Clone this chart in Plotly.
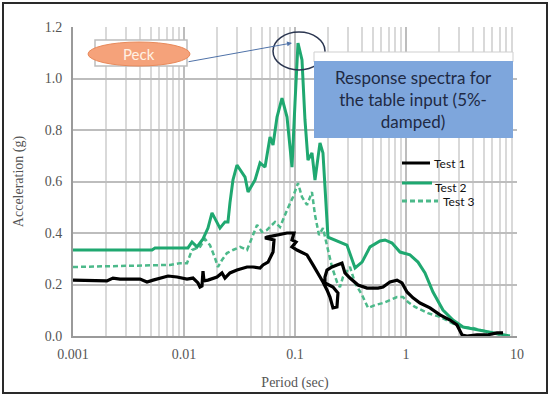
import plotly.graph_objects as go

# ---------------- data ----------------
test2_period = [0.001, 0.00515, 0.00548, 0.01086, 0.0118, 0.0131, 0.01483, 0.01644, 0.01787, 0.01983,
                0.02109, 0.02339, 0.02489, 0.02594, 0.02761, 0.03, 0.03548, 0.03776, 0.04365, 0.04842,
                0.0537, 0.05957, 0.06339, 0.06887, 0.07638, 0.08472, 0.09016, 0.09397, 0.1, 0.1064,
                0.1156, 0.123, 0.1309, 0.1422, 0.1514, 0.1679, 0.1786, 0.1941, 0.1982, 0.2938,
                0.3126, 0.3475, 0.4018, 0.4743, 0.5834, 0.6471, 0.7482, 0.8831, 1.086, 1.282,
                1.483, 1.750, 2.153, 2.649, 3.266, 4.645, 6.081, 8.650]
test2_acc = [0.334, 0.334, 0.342, 0.342, 0.365, 0.346, 0.377, 0.419, 0.478, 0.443,
             0.419, 0.443, 0.443, 0.517, 0.606, 0.664, 0.617, 0.559, 0.606, 0.672,
             0.656, 0.773, 0.742, 0.850, 0.924, 0.850, 0.734, 0.656, 0.905, 1.138,
             1.072, 0.839, 0.683, 0.711, 0.606, 0.750, 0.711, 0.439, 0.384, 0.353,
             0.322, 0.264, 0.287, 0.346, 0.369, 0.373, 0.361, 0.326, 0.315, 0.287,
             0.245, 0.171, 0.101, 0.062, 0.035, 0.023, 0.012, 0.0]

test3_period = [0.001, 0.00748, 0.0092, 0.01064, 0.0118, 0.01393, 0.01545, 0.01714, 0.01902, 0.02023,
                0.02198, 0.02438, 0.02761, 0.03199, 0.03698, 0.04102, 0.0455, 0.05047, 0.05597, 0.06607,
                0.07328, 0.08472, 0.09594, 0.1064, 0.1156, 0.1282, 0.1422, 0.1514, 0.1645, 0.1786,
                0.1941, 0.2153, 0.2388, 0.2541, 0.2704, 0.3126, 0.3475, 0.4018, 0.455, 0.526,
                0.6209, 0.7178, 0.8299, 0.9397, 1.042, 1.205, 1.393, 1.578, 2.023, 2.489,
                3.063, 4.018, 5.370, 7.031]
test3_acc = [0.268, 0.276, 0.283, 0.283, 0.334, 0.346, 0.377, 0.353, 0.303, 0.268,
             0.295, 0.322, 0.334, 0.346, 0.334, 0.384, 0.431, 0.404, 0.412, 0.443,
             0.423, 0.489, 0.540, 0.594, 0.540, 0.509, 0.559, 0.470, 0.392, 0.419,
             0.353, 0.268, 0.210, 0.190, 0.229, 0.268, 0.206, 0.159, 0.109, 0.120,
             0.128, 0.140, 0.151, 0.151, 0.132, 0.113, 0.101, 0.089, 0.074, 0.054,
             0.035, 0.031, 0.016, 0.004]

test1_period = [0.001, 0.00151, 0.00202, 0.00229, 0.00265, 0.00402, 0.00464, 0.00526, 0.00608, 0.00718,
                0.00865, 0.01064, 0.01205, 0.01337, 0.01393, 0.01452, 0.01483, 0.01514, 0.01644, 0.01983,
                0.02198, 0.02339, 0.02594, 0.03, 0.03698, 0.04188, 0.04842, 0.05152, 0.05715, 0.06339,
                0.06471, 0.0537, 0.05597, 0.06887, 0.08472, 0.09795, 0.09397, 0.1021, 0.09397, 0.1042,
                0.1282, 0.1452, 0.1611, 0.1786, 0.1941, 0.2065, 0.2198, 0.2388, 0.2438, 0.2198,
                0.1862, 0.1862, 0.1941, 0.2153, 0.2388, 0.2649, 0.2818, 0.3126, 0.3698, 0.4457,
                0.5598, 0.6209, 0.7178, 0.8299, 0.9204, 1.021, 1.156, 1.337, 1.644, 2.023,
                2.489, 2.877, 3.199, 3.548, 4.365, 5.370, 6.607, 7.482]
test1_acc = [0.217, 0.214, 0.214, 0.225, 0.221, 0.221, 0.210, 0.217, 0.225, 0.233,
             0.229, 0.221, 0.225, 0.206, 0.190, 0.194, 0.252, 0.214, 0.217, 0.229,
             0.245, 0.225, 0.245, 0.256, 0.268, 0.268, 0.264, 0.276, 0.287, 0.326,
             0.373, 0.381, 0.384, 0.392, 0.400, 0.400, 0.373, 0.365, 0.346, 0.334,
             0.315, 0.276, 0.245, 0.210, 0.179, 0.151, 0.109, 0.113, 0.167, 0.190,
             0.206, 0.229, 0.256, 0.268, 0.276, 0.283, 0.245, 0.225, 0.198, 0.186,
             0.186, 0.190, 0.210, 0.217, 0.206, 0.171, 0.148, 0.128, 0.109, 0.082,
             0.062, 0.043, 0.004, 0.0, 0.004, 0.004, 0.012, 0.012]

x_tickvals = [0.001, 0.01, 0.1, 1, 10]
x_ticktext = ["0.001", "0.01", "0.1", "1", "10"]
series_names = ["Test 1", "Test 2", "Test 3"]

# ---------------- styling ----------------
W, H = 550, 397
L, R, T, B = 73, 33, 27, 61
PW, PH = W - L - R, H - T - B
GREEN = "#1FA870"
GREEN_LIGHT = "#4CB98A"
SERIF = "Liberation Serif"
SANS = "Lato"


def px(x):
    return (x - L) / PW


def py(y):
    return (H - B - y) / PH


fig = go.Figure()
fig.add_trace(go.Scatter(x=test3_period, y=test3_acc, mode="lines", name=series_names[2],
                         line=dict(color=GREEN_LIGHT, width=2.5, dash="5px,3px"), showlegend=False))
fig.add_trace(go.Scatter(x=test2_period, y=test2_acc, mode="lines", name=series_names[1],
                         line=dict(color=GREEN, width=3), showlegend=False))
fig.add_trace(go.Scatter(x=test1_period, y=test1_acc, mode="lines", name=series_names[0],
                         line=dict(color="black", width=3.2), showlegend=False))

shapes = []
# outer frame of the picture
shapes.append(dict(type="rect", xref="paper", yref="paper", x0=px(3), x1=px(547), y0=py(3), y1=py(393),
                   line=dict(color="#2a2a2a", width=2), layer="above"))
# Peck text-box outline and ellipse
shapes.append(dict(type="rect", xref="paper", yref="paper", x0=px(95), x1=px(187), y0=py(40), y1=py(66),
                   line=dict(color="#BDBDBD", width=1.5), fillcolor="white", layer="above"))
shapes.append(dict(type="circle", xref="paper", yref="paper", x0=px(88), x1=px(190), y0=py(42), y1=py(66),
                   line=dict(color="#E8895A", width=1), fillcolor="#F5A27A", layer="above"))
# circle around the peak
shapes.append(dict(type="circle", xref="paper", yref="paper", x0=px(273), x1=px(325), y0=py(32), y1=py(70),
                   line=dict(color="#2B3650", width=1.5), layer="above"))
# white box above blue box
shapes.append(dict(type="rect", xref="paper", yref="paper", x0=px(314), x1=px(513), y0=py(52), y1=py(62),
                   line=dict(color="#CFCFCF", width=1), fillcolor="white", layer="above"))
# blue annotation box
shapes.append(dict(type="rect", xref="paper", yref="paper", x0=px(314), x1=px(513), y0=py(61), y1=py(138),
                   line=dict(color="#7EA6DC", width=0), fillcolor="#7EA6DC", layer="above"))
# legend samples
shapes.append(dict(type="line", xref="paper", yref="paper", x0=px(402), x1=px(430), y0=py(163), y1=py(163),
                   line=dict(color="black", width=3), layer="above"))
shapes.append(dict(type="line", xref="paper", yref="paper", x0=px(402), x1=px(432), y0=py(183), y1=py(183),
                   line=dict(color=GREEN, width=3), layer="above"))
shapes.append(dict(type="line", xref="paper", yref="paper", x0=px(402), x1=px(438), y0=py(201), y1=py(201),
                   line=dict(color=GREEN_LIGHT, width=3, dash="5px,3px"), layer="above"))

annotations = [
    dict(text="Peck", xref="paper", yref="paper", x=px(139), y=py(54), xanchor="center", yanchor="middle",
         showarrow=False, font=dict(family=SANS, size=15, color="#FFF1E4")),
    dict(text="", xref="paper", yref="paper", x=px(292), y=py(43), ax=-105, ay=19,
         showarrow=True, arrowhead=2, arrowsize=1, arrowwidth=1, arrowcolor="#4F72A8"),
    dict(text="Response spectra for<br>the table input (5%-<br>damped)", xref="paper", yref="paper",
         x=px(413), y=py(99), xanchor="center", yanchor="middle", showarrow=False, align="center",
         font=dict(family=SANS, size=17, color="#1F2A44")),
    dict(text=series_names[0], xref="paper", yref="paper", x=px(432), y=py(163), xanchor="left",
         yanchor="middle", showarrow=False, font=dict(family=SANS, size=12, color="#111")),
    dict(text=series_names[1], xref="paper", yref="paper", x=px(433), y=py(187), xanchor="left",
         yanchor="middle", showarrow=False, font=dict(family=SANS, size=12, color="#111")),
    dict(text=series_names[2], xref="paper", yref="paper", x=px(441), y=py(201), xanchor="left",
         yanchor="middle", showarrow=False, font=dict(family=SANS, size=12, color="#111")),
]

fig.update_layout(
    width=W, height=H,
    margin=dict(l=L, r=R, t=T, b=B, autoexpand=False),
    paper_bgcolor="white", plot_bgcolor="white",
    shapes=shapes, annotations=annotations,
    showlegend=False,
    xaxis=dict(type="log", range=[-3, 1], tickmode="array", tickvals=x_tickvals, ticktext=x_ticktext,
               automargin=False,
               showgrid=True, gridcolor="#BDBDBD", gridwidth=2,
               minor=dict(dtick="D1", showgrid=True, gridcolor="#D9D9D9", gridwidth=2, ticks=""),
               showline=True, linecolor="#9A9A9A", linewidth=2, ticks="", zeroline=False,
               ticklabelstandoff=4,
               tickfont=dict(family=SERIF, size=14, color="#555"),
               title=dict(text="Period (sec)", font=dict(family=SERIF, size=14, color="#555"), standoff=16)),
    yaxis=dict(range=[0, 1.2], dtick=0.2, tickformat=".1f",
               automargin=False,
               showgrid=True, gridcolor="#BDBDBD", gridwidth=2, zeroline=False,
               showline=True, linecolor="#9A9A9A", linewidth=2, ticks="",
               ticklabelstandoff=6,
               tickfont=dict(family=SERIF, size=14, color="#555"),
               title=dict(text="Acceleration (g)", font=dict(family=SERIF, size=14, color="#555"), standoff=18)),
)

fig.write_html("out.html", config={"displayModeBar": False},
               post_script="document.body.style.margin='0px';document.body.style.padding='0px';")
